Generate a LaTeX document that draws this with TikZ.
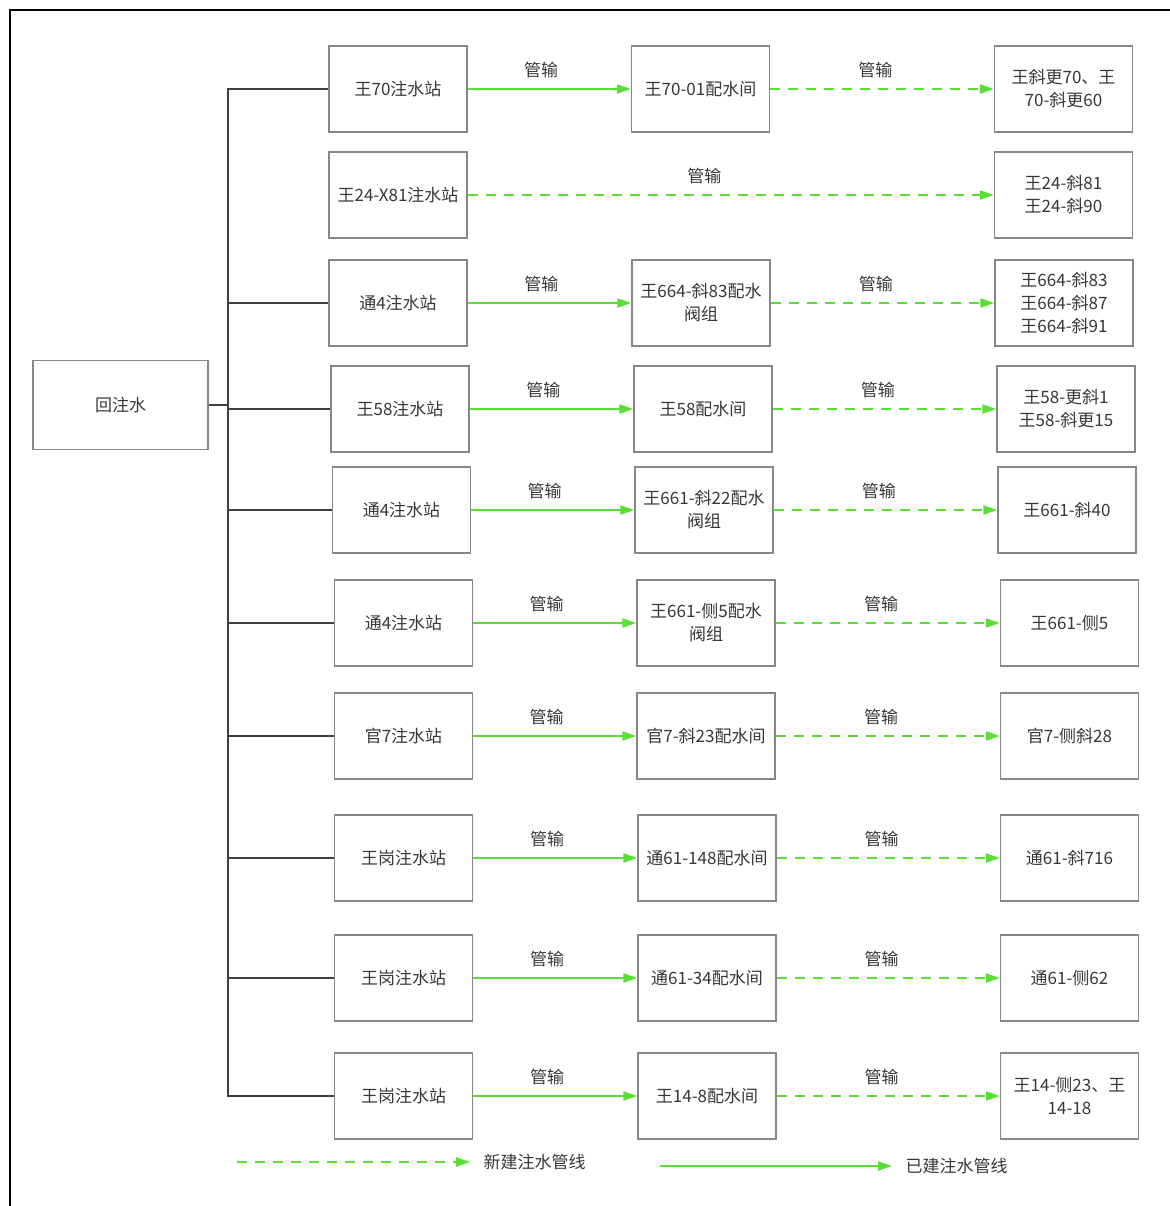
\documentclass[tikz,border=0pt]{standalone}
\usepackage{fontspec}
\setmainfont{Noto Sans CJK SC}
\usetikzlibrary{arrows.meta}
\definecolor{pipegreen}{RGB}{88,222,52}
\definecolor{boxgray}{RGB}{135,135,135}
\definecolor{txtgray}{RGB}{55,55,55}
\tikzset{
  box/.style={draw=boxgray, line width=0.7pt, minimum width=69pt, minimum height=43pt,
    inner sep=1pt, align=center, text=txtgray, font=\fontsize{8.5}{11.5}\selectfont},
  built/.style={->, draw=pipegreen, line width=1pt},
  planned/.style={->, draw=pipegreen, line width=1pt, dash pattern=on 5pt off 4pt},
  lbl/.style={above=5pt, inner sep=0pt, text=txtgray, font=\fontsize{8.5}{10}\selectfont},
  branch/.style={draw=black!75, line width=0.9pt}
}
\begin{document}
\begin{tikzpicture}[x=0.5pt, y=-0.5pt, >={Triangle[length=7pt,width=4.5pt]}]
\useasboundingbox (0,0) rectangle (1169,1206);
\draw[line width=1pt] (10,1220) -- (10,10) -- (1180,10);

\node[box, minimum width=87.5pt, minimum height=44.5pt] (huizhu) at (120.5,405) {回注水};
\coordinate (trunk) at (228,0);

% stations, distribution rooms, wells
\node[box] (zs1) at (398,89) {王70注水站};
\node[box] (ps1) at (700.5,89) {王70-01配水间};
\node[box] (jk1) at (1063.5,89) {王斜更70、王\\70-斜更60};

\node[box] (zs2) at (398,195) {王24-X81注水站};
\node[box] (jk2) at (1063.5,195) {王24-斜81\\王24-斜90};

\node[box] (zs3) at (398,303) {通4注水站};
\node[box] (ps3) at (701,303) {王664-斜83配水\\阀组};
\node[box] (jk3) at (1064,303) {王664-斜83\\王664-斜87\\王664-斜91};

\node[box] (zs4) at (400,409) {王58注水站};
\node[box] (ps4) at (703,409) {王58配水间};
\node[box] (jk4) at (1066,409) {王58-更斜1\\王58-斜更15};

\node[box] (zs5) at (401.5,510) {通4注水站};
\node[box] (ps5) at (704,510) {王661-斜22配水\\阀组};
\node[box] (jk5) at (1067,510) {王661-斜40};

\node[box] (zs6) at (403.5,623) {通4注水站};
\node[box] (ps6) at (706,623) {王661-侧5配水\\阀组};
\node[box] (jk6) at (1069.5,623) {王661-侧5};

\node[box] (zs7) at (403.5,736) {官7注水站};
\node[box] (ps7) at (706,736) {官7-斜23配水间};
\node[box] (jk7) at (1069.5,736) {官7-侧斜28};

\node[box] (zs8) at (403.5,858) {王岗注水站};
\node[box] (ps8) at (707,858) {通61-148配水间};
\node[box] (jk8) at (1069.5,858) {通61-斜716};

\node[box] (zs9) at (403.5,978) {王岗注水站};
\node[box] (ps9) at (707,978) {通61-34配水间};
\node[box] (jk9) at (1069.5,978) {通61-侧62};

\node[box] (zs10) at (403.5,1096) {王岗注水站};
\node[box] (ps10) at (707,1096) {王14-8配水间};
\node[box] (jk10) at (1069.5,1096) {王14-侧23、王\\14-18};

% trunk line
\draw[branch] (huizhu.east) -- (huizhu.east -| trunk);
\draw[branch] (zs1.west) -- (zs1.west -| trunk) -- (zs10.west -| trunk) -- (zs10.west);
\foreach \r in {3,...,9}
  \draw[branch] (zs\r.west -| trunk) -- (zs\r.west);

% pipelines
\draw[planned] (zs2) -- node[lbl, pos=0.45] {管输} (jk2);
\foreach \r in {1,3,4,5,6,7,8,9,10} {
  \draw[built] (zs\r) -- node[lbl, pos=0.45] {管输} (ps\r);
  \draw[planned] (ps\r) -- node[lbl, pos=0.47] {管输} (jk\r);
}

% legend
\coordinate (newA) at (237,1162);
\coordinate (newB) at (470,1162);
\draw[planned] (newA) -- (newB) node[right=3pt, text=txtgray, font=\fontsize{8.5}{10}\selectfont] (newtxt) {新建注水管线};
\coordinate (oldA) at (660,1166);
\coordinate (oldB) at (892,1166);
\draw[built] (oldA) -- (oldB) node[right=3pt, text=txtgray, font=\fontsize{8.5}{10}\selectfont] (oldtxt) {已建注水管线};
\end{tikzpicture}
\end{document}
